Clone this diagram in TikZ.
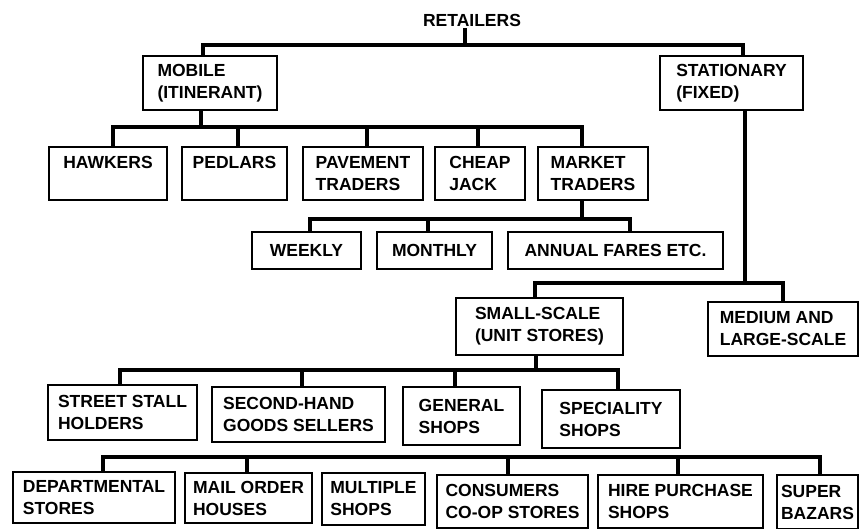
\documentclass[tikz,border=0pt]{standalone}
\usepackage{fontspec}
\setmainfont{Liberation Sans}

\begin{document}
\begin{tikzpicture}[x=1pt, y=-1pt,
    box/.style={draw, line width=2, align=left, inner sep=0,
      font=\fontsize{17.5}{22}\selectfont\bfseries},
    link/.style={line width=4}]
  \useasboundingbox (0,0) rectangle (860,529);

  % levels of the bars
  \coordinate (b0) at (0,45);
  \coordinate (b1) at (0,127);
  \coordinate (b2) at (0,219);
  \coordinate (b3) at (0,283);
  \coordinate (b4) at (0,370);
  \coordinate (b5) at (0,457);

  \node[inner sep=2, font=\fontsize{17.5}{22}\selectfont\bfseries] (ret) at (472,20) {RETAILERS};

  \node[box, minimum width=134, minimum height=54] (mob) at (210,83) {MOBILE\\(ITINERANT)};
  \node[box, minimum width=143, minimum height=54] (sta) at (731.5,83) {STATIONARY\\(FIXED)};

  \node[box, minimum width=118, minimum height=53] (hawk) at (108,173.5) {HAWKERS\\\mbox{}};
  \node[box, minimum width=105, minimum height=53] (ped) at (234.5,173.5) {PEDLARS\\\mbox{}};
  \node[box, minimum width=120, minimum height=53] (pav) at (363,173.5) {PAVEMENT\\TRADERS};
  \node[box, minimum width=90, minimum height=53] (chp) at (480,173.5) {CHEAP\\JACK};
  \node[box, minimum width=110, minimum height=53] (mkt) at (593,173.5) {MARKET\\TRADERS};

  \node[box, minimum width=109, minimum height=37] (wk) at (306.5,250.5) {WEEKLY};
  \node[box, minimum width=115, minimum height=37] (mon) at (434.5,250.5) {MONTHLY};
  \node[box, minimum width=215, minimum height=37] (ann) at (615.5,250.5) {ANNUAL FARES ETC.};

  \node[box, minimum width=167, minimum height=57] (sml) at (539.5,326.5) {SMALL-SCALE\\(UNIT STORES)};
  \node[box, minimum width=150, minimum height=54] (med) at (783,329) {MEDIUM AND\\LARGE-SCALE};

  \node[box, minimum width=149, minimum height=55] (str) at (122.5,412.5) {STREET STALL\\HOLDERS};
  \node[box, minimum width=173, minimum height=55] (sec) at (298.5,414.5) {SECOND-HAND\\GOODS SELLERS};
  \node[box, minimum width=117, minimum height=58] (gen) at (461.5,416) {GENERAL\\SHOPS};
  \node[box, minimum width=138, minimum height=58] (spc) at (611,419) {SPECIALITY\\SHOPS};

  \node[box, minimum width=162, minimum height=51] (dep) at (94,497.5) {DEPARTMENTAL\\STORES};
  \node[box, minimum width=127, minimum height=50] (mail) at (248.5,498) {MAIL ORDER\\HOUSES};
  \node[box, minimum width=103, minimum height=52] (mul) at (373.5,499) {MULTIPLE\\SHOPS};
  \node[box, minimum width=151, minimum height=53] (con) at (512.5,501.5) {CONSUMERS\\CO-OP STORES};
  \node[box, minimum width=165, minimum height=53] (hire) at (680.5,501.5) {HIRE PURCHASE\\SHOPS};
  \node[box, minimum width=81, minimum height=54] (sup) at (817.5,502) {SUPER\\BAZARS};

  % retailers
  \draw[link] ([xshift=-7]ret.south) -- ([xshift=-7]ret.south |- b0);
  \draw[link] ([xshift=-7]mob.north) |- ([xshift=11]sta.north |- b0) -- ([xshift=11]sta.north);

  % mobile
  \draw[link] ([xshift=-9]mob.south) -- ([xshift=-9]mob.south |- b1);
  \draw[link] ([xshift=5]hawk.north) |- ([xshift=-11]mkt.north |- b1) -- ([xshift=-11]mkt.north);
  \draw[link] ([xshift=3.5]ped.north) -- ([xshift=3.5]ped.north |- b1);
  \draw[link] ([xshift=4]pav.north) -- ([xshift=4]pav.north |- b1);
  \draw[link] ([xshift=-2]chp.north) -- ([xshift=-2]chp.north |- b1);

  % market traders
  \draw[link] ([xshift=-11]mkt.south) -- ([xshift=-11]mkt.south |- b2);
  \draw[link] ([xshift=3.5]wk.north) |- ([xshift=14.5]ann.north |- b2) -- ([xshift=14.5]ann.north);
  \draw[link] ([xshift=-6.5]mon.north) -- ([xshift=-6.5]mon.north |- b2);

  % stationary
  \draw[link] ([xshift=13]sta.south) -- ([xshift=13]sta.south |- b3);
  \draw[link] ([xshift=-4.5]sml.north) |- (med.north |- b3) -- (med.north);

  % small-scale
  \draw[link] ([xshift=-3.5]sml.south) -- ([xshift=-3.5]sml.south |- b4);
  \draw[link] ([xshift=-2.5]str.north) |- ([xshift=7]spc.north |- b4) -- ([xshift=7]spc.north);
  \draw[link] ([xshift=3.5]sec.north) -- ([xshift=3.5]sec.north |- b4);
  \draw[link] ([xshift=-6.5]gen.north) -- ([xshift=-6.5]gen.north |- b4);

  % bottom row
  \draw[link] ([xshift=9]dep.north) |- ([xshift=2.5]sup.north |- b5) -- ([xshift=2.5]sup.north);
  \draw[link] ([xshift=-1.5]mail.north) -- ([xshift=-1.5]mail.north |- b5);
  \draw[link] ([xshift=-4.5]con.north) -- ([xshift=-4.5]con.north |- b5);
  \draw[link] ([xshift=-2.5]hire.north) -- ([xshift=-2.5]hire.north |- b5);
\end{tikzpicture}
\end{document}
